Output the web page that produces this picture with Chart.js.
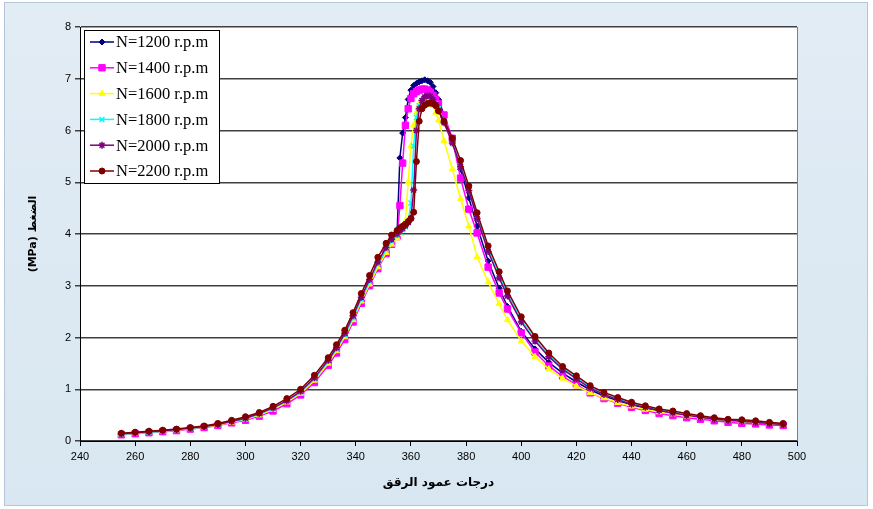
<!DOCTYPE html>
<html>
<head>
<meta charset="utf-8">
<script src="https://cdn.jsdelivr.net/npm/chart.js"></script>
<style>
  html, body { margin: 0; padding: 0; background: #ffffff; }
  canvas { display: block; }
</style>
</head>
<body>
<canvas id="grafico" width="873" height="509"></canvas>
<script>
// درجات عمود المرفق (x)
var angulos = [255, 260, 265, 270, 275, 280, 285, 290, 295, 300, 305, 310, 315, 320, 325, 330,
  333, 336, 339, 342, 345, 348, 351, 353,
  355, 356, 357, 358, 359, 360, 361, 362, 363, 364, 365, 366, 367, 368, 369, 370,
  372, 375, 378, 381, 384, 388, 392, 395,
  400, 405, 410, 415, 420, 425, 430, 435, 440, 445, 450, 455, 460, 465, 470, 475, 480, 485, 490, 495];

var rotulos = ['N=1200 r.p.m', 'N=1400 r.p.m', 'N=1600 r.p.m', 'N=1800 r.p.m', 'N=2000 r.p.m', 'N=2200 r.p.m'];

// pressão (MPa) para cada rotação
var p1200 = [0.13, 0.15, 0.17, 0.19, 0.21, 0.24, 0.27, 0.31, 0.37, 0.43, 0.51, 0.62, 0.76, 0.93, 1.18, 1.52,
  1.76, 2.03, 2.36, 2.72, 3.05, 3.38, 3.66, 3.84,
  4.05, 5.47, 5.95, 6.25, 6.60, 6.78, 6.87, 6.91, 6.94, 6.96, 6.98, 6.96, 6.93, 6.85, 6.73, 6.60,
  6.30, 5.80, 5.25, 4.70, 4.15, 3.48, 2.95, 2.60,
  2.12, 1.78, 1.52, 1.31, 1.14, 0.99, 0.87, 0.78, 0.70, 0.63, 0.57, 0.53, 0.49, 0.45, 0.42, 0.39, 0.37, 0.35, 0.33, 0.31];
var p1400 = [0.12, 0.14, 0.16, 0.18, 0.20, 0.23, 0.26, 0.30, 0.35, 0.40, 0.48, 0.58, 0.72, 0.89, 1.13, 1.46,
  1.70, 1.96, 2.30, 2.66, 3.00, 3.33, 3.62, 3.80,
  3.95, 4.55, 5.37, 6.10, 6.42, 6.62, 6.71, 6.75, 6.78, 6.80, 6.80, 6.78, 6.74, 6.68, 6.60, 6.52,
  6.30, 5.85, 5.08, 4.48, 4.02, 3.36, 2.86, 2.55,
  2.09, 1.72, 1.45, 1.25, 1.09, 0.93, 0.82, 0.73, 0.65, 0.59, 0.53, 0.49, 0.45, 0.42, 0.39, 0.36, 0.34, 0.33, 0.31, 0.30];
var p1600 = [0.13, 0.15, 0.17, 0.19, 0.21, 0.24, 0.27, 0.31, 0.36, 0.42, 0.50, 0.61, 0.75, 0.92, 1.17, 1.50,
  1.74, 2.01, 2.34, 2.70, 3.03, 3.36, 3.64, 3.80,
  3.92, 4.00, 4.08, 4.25, 5.00, 5.70, 6.10, 6.35, 6.50, 6.58, 6.62, 6.62, 6.57, 6.48, 6.35, 6.20,
  5.80, 5.25, 4.68, 4.15, 3.56, 3.07, 2.65, 2.34,
  1.93, 1.63, 1.39, 1.21, 1.06, 0.93, 0.83, 0.74, 0.67, 0.61, 0.56, 0.52, 0.48, 0.45, 0.42, 0.39, 0.37, 0.36, 0.34, 0.32];
var p1800 = [0.13, 0.15, 0.17, 0.19, 0.22, 0.24, 0.28, 0.32, 0.37, 0.43, 0.52, 0.63, 0.77, 0.95, 1.20, 1.54,
  1.78, 2.05, 2.38, 2.74, 3.08, 3.42, 3.70, 3.86,
  3.97, 4.03, 4.08, 4.14, 4.22, 4.60, 5.70, 6.25, 6.48, 6.58, 6.64, 6.66, 6.65, 6.60, 6.52, 6.42,
  6.18, 5.78, 5.32, 4.85, 4.35, 3.70, 3.20, 2.84,
  2.34, 1.96, 1.66, 1.41, 1.22, 1.04, 0.91, 0.81, 0.72, 0.66, 0.60, 0.55, 0.51, 0.47, 0.43, 0.40, 0.39, 0.37, 0.35, 0.33];
var p2000 = [0.14, 0.16, 0.18, 0.20, 0.22, 0.25, 0.28, 0.32, 0.38, 0.44, 0.53, 0.64, 0.78, 0.96, 1.22, 1.56,
  1.80, 2.08, 2.42, 2.78, 3.12, 3.46, 3.74, 3.90,
  4.00, 4.06, 4.11, 4.16, 4.22, 4.30, 4.85, 6.00, 6.42, 6.58, 6.65, 6.68, 6.66, 6.60, 6.50, 6.38,
  6.15, 5.76, 5.30, 4.84, 4.30, 3.66, 3.15, 2.80,
  2.30, 1.93, 1.63, 1.39, 1.20, 1.02, 0.90, 0.80, 0.71, 0.65, 0.59, 0.54, 0.50, 0.46, 0.42, 0.40, 0.38, 0.36, 0.34, 0.32];
var p2200 = [0.15, 0.17, 0.19, 0.21, 0.23, 0.26, 0.29, 0.34, 0.40, 0.47, 0.55, 0.67, 0.82, 1.00, 1.27, 1.61,
  1.86, 2.14, 2.48, 2.85, 3.20, 3.55, 3.82, 3.98,
  4.07, 4.12, 4.15, 4.19, 4.24, 4.30, 4.42, 5.40, 6.18, 6.42, 6.49, 6.52, 6.53, 6.52, 6.48, 6.38,
  6.18, 5.85, 5.42, 4.93, 4.41, 3.77, 3.27, 2.90,
  2.40, 2.02, 1.70, 1.44, 1.26, 1.07, 0.94, 0.84, 0.75, 0.68, 0.62, 0.58, 0.53, 0.49, 0.45, 0.42, 0.41, 0.39, 0.36, 0.34];

var cores = ['#000080', '#ff00ff', '#ffff00', '#00ffff', '#800080', '#800000'];
var estilos = ['rectRot', 'rect', 'triangle', 'crossRot', 'star', 'circle'];
var raios = [3, 4.5, 3.5, 3.5, 3.5, 3];

var series = [p1200, p1400, p1600, p1800, p2000, p2200];

function pontos(valores) {
    return angulos.map(function (a, i) { return { x: a, y: valores[i] }; });
}

var datasets = series.map(function (v, i) {
    return {
        label: rotulos[i],
        data: pontos(v),
        borderColor: cores[i],
        backgroundColor: cores[i],
        borderWidth: 1.5,
        pointStyle: estilos[i],
        pointRadius: raios[i],
        pointBorderWidth: (estilos[i] === 'crossRot' || estilos[i] === 'star') ? 1.5 : 1,
        pointBorderColor: cores[i],
        pointBackgroundColor: cores[i],
        tension: 0,
        order: 5 - i
    };
});

// fundo azul claro + área branca do gráfico
var fundo = {
    id: 'fundo',
    beforeDraw: function (chart) {
        var ctx = chart.ctx, a = chart.chartArea;
        ctx.save();
        ctx.fillStyle = '#ffffff';
        ctx.fillRect(0, 0, chart.width, chart.height);
        var g = ctx.createLinearGradient(0, 0, 0, chart.height);
        g.addColorStop(0, '#e2ecf5');
        g.addColorStop(1, '#d8e7f1');
        ctx.fillStyle = g;
        ctx.fillRect(4, 2, 864, 504);
        ctx.strokeStyle = '#b4c6d8';
        ctx.lineWidth = 1;
        ctx.strokeRect(4.5, 2.5, 863, 503);
        ctx.fillStyle = '#ffffff';
        ctx.fillRect(a.left, a.top, a.right - a.left, a.bottom - a.top);
        ctx.strokeStyle = '#808080';
        ctx.beginPath();
        ctx.moveTo(a.right + 0.5, a.top);
        ctx.lineTo(a.right + 0.5, a.bottom);
        ctx.stroke();
        ctx.restore();
    }
};

// legenda com caixa dentro da área do gráfico
var legendaCaixa = {
    id: 'legendaCaixa',
    afterDraw: function (chart) {
        var ctx = chart.ctx;
        var x0 = 84, y0 = 30, w = 135, h = 153;
        ctx.save();
        ctx.fillStyle = '#ffffff';
        ctx.fillRect(x0, y0, w, h);
        ctx.strokeStyle = '#000000';
        ctx.lineWidth = 1;
        ctx.strokeRect(x0 + 0.5, y0 + 0.5, w, h);
        chart.data.datasets.forEach(function (ds, i) {
            var y = 42 + i * 25.8;
            ctx.strokeStyle = ds.borderColor;
            ctx.fillStyle = ds.borderColor;
            ctx.lineWidth = 1.5;
            ctx.beginPath();
            ctx.moveTo(90, y);
            ctx.lineTo(114, y);
            ctx.stroke();
            ctx.lineWidth = ds.pointBorderWidth;
            Chart.helpers.drawPoint(ctx, {
                pointStyle: ds.pointStyle,
                radius: ds.pointRadius,
                rotation: 0,
                borderWidth: ds.pointBorderWidth
            }, 102, y);
            ctx.fillStyle = '#000000';
            ctx.font = '16.5px "Liberation Serif", "Times New Roman", serif';
            ctx.textBaseline = 'middle';
            ctx.textAlign = 'left';
            ctx.fillText(ds.label, 116, y + 1);
        });
        ctx.restore();
    }
};

var fonteTicks = { family: 'Arial, "Liberation Sans", sans-serif', size: 11 };

new Chart(document.getElementById('grafico').getContext('2d'), {
    type: 'line',
    data: { datasets: datasets },
    options: {
        responsive: false,
        animation: false,
        layout: { padding: { top: 27, right: 76, left: 0, bottom: 0 } },
        plugins: {
            legend: { display: false },
            tooltip: { enabled: false }
        },
        scales: {
            x: {
                type: 'linear',
                min: 240,
                max: 500,
                ticks: { stepSize: 20, color: '#000', font: fonteTicks, padding: 4, maxRotation: 0 },
                grid: { drawOnChartArea: false, drawTicks: true, tickLength: 5, color: '#000' },
                border: { color: '#000', width: 1 },
                title: {
                    display: true,
                    text: 'درجات عمود الرقق',
                    color: '#000',
                    font: { family: '"DejaVu Sans", Arial, sans-serif', size: 12, weight: 'bold' },
                    padding: { top: 0, bottom: 19 }
                },
                afterFit: function (s) { s.height = 68; }
            },
            y: {
                min: 0,
                max: 8,
                ticks: { stepSize: 1, color: '#000', font: fonteTicks, padding: 4 },
                grid: { color: '#404040', lineWidth: 1.5, tickLength: 5 },
                border: { color: '#000', width: 1 },
                title: {
                    display: true,
                    text: '(MPa) الضغط',
                    color: '#000',
                    font: { family: '"DejaVu Sans", Arial, sans-serif', size: 11, weight: 'bold' },
                    padding: { top: 27, bottom: 0 }
                },
                afterFit: function (s) { s.width = 80; }
            }
        }
    },
    plugins: [fundo, legendaCaixa]
});
</script>
</body>
</html>
